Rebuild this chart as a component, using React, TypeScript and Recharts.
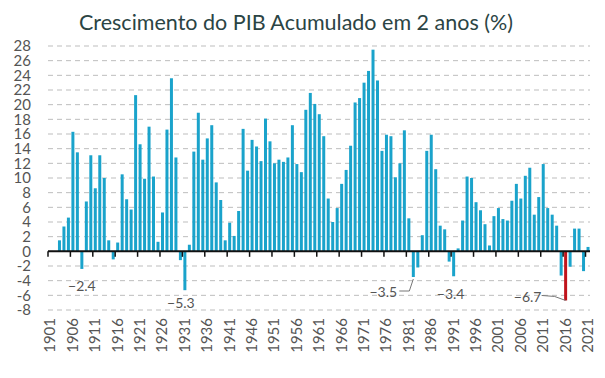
import React from 'react';
import { BarChart, Bar, XAxis, YAxis, CartesianGrid, ReferenceLine, Cell, LabelList } from 'recharts';

const START_YEAR = 1901;
const growth: (number | null)[] = [
  null, null, 1.5, 3.4, 4.6, 16.3, 13.5, -2.4, 6.8, 13.1,
  8.6, 13.1, 10.0, 1.5, -1.1, 1.2, 10.5, 7.1, 5.7, 21.3,
  14.6, 9.9, 17.0, 10.2, 1.3, 5.3, 16.6, 23.6, 12.8, -1.2,
  -5.3, 0.9, 13.6, 18.9, 12.5, 15.4, 17.2, 9.4, 7.0, 1.5,
  3.9, 2.1, 5.5, 16.7, 11.0, 15.2, 14.3, 12.3, 18.1, 15.0,
  12.0, 12.5, 12.2, 12.8, 17.2, 11.9, 10.8, 19.3, 21.6, 20.1,
  18.7, 15.7, 7.2, 4.0, 5.9, 9.2, 11.1, 14.4, 20.3, 20.9,
  23.0, 24.6, 27.5, 23.3, 13.7, 15.9, 15.7, 10.1, 12.0, 16.5,
  4.5, -3.5, -2.2, 2.2, 13.7, 15.9, 11.2, 3.5, 3.0, -1.4,
  -3.4, 0.4, 4.2, 10.2, 10.0, 6.7, 5.6, 3.7, 0.8, 4.8,
  5.9, 4.4, 4.2, 6.9, 9.2, 7.2, 10.3, 11.4, 5.0, 7.4,
  11.9, 5.9, 5.0, 3.5, -3.3, -6.7, -2.1, 3.1, 3.1, -2.7,
  0.6,
];
const years: string[] = growth.map((_, i) => String(START_YEAR + i));
const yTicks = [28, 26, 24, 22, 20, 18, 16, 14, 12, 10, 8, 6, 4, 2, 0, -2, -4, -6, -8];
const tickYears: string[] = years.filter((_, i) => i % 5 === 0);
const highlightYear = '2016';
const annotatedYears = ['1908', '1931', '1982', '1991', '2016'];

const data = years.map((year, i) => ({
  year,
  value: growth[i],
  note: annotatedYears.includes(year) ? year : null,
}));

// label placement (styling only)
const labelStyle: Record<string, { dx: number; dy: number; leader?: 'hook' | 'slant' }> = {
  '1908': { dx: 0, dy: 17 },
  '1931': { dx: -4, dy: 12 },
  '1982': { dx: -30, dy: 14, leader: 'hook' },
  '1991': { dx: -3, dy: 17 },
  '2016': { dx: -38, dy: -4, leader: 'slant' },
};

const fmt = (v: number) => (v < 0 ? '\u2212' + Math.abs(v).toFixed(1) : v.toFixed(1));

const AnnotationLabel = (props: any) => {
  const { x, y, width, height, value } = props;
  if (value == null || !labelStyle[String(value)]) return null;
  const year = String(value);
  const v = growth[years.indexOf(year)];
  if (v == null) return null;
  const st = labelStyle[year];
  const cx = Number(x) + Number(width) / 2;
  const bottom = Math.max(Number(y), Number(y) + Number(height));
  const tx = cx + st.dx;
  const ty = bottom + st.dy;
  let leader: React.ReactNode = null;
  if (st.leader === 'hook') {
    leader = (
      <polyline
        points={`${tx + 16},${ty} ${tx + 26},${ty} ${cx},${bottom + 2}`}
        fill="none"
        stroke="#777"
        strokeWidth={1}
      />
    );
  } else if (st.leader === 'slant') {
    leader = (
      <polyline
        points={`${tx + 14},${ty - 1} ${tx + 27},${ty} ${cx},${bottom}`}
        fill="none"
        stroke="#777"
        strokeWidth={1}
      />
    );
  }
  return (
    <g>
      {leader}
      <text x={tx} y={ty} textAnchor="middle" dominantBaseline="central" fontSize={14} fill="#555" fontFamily="Lato">
        {fmt(v)}
      </text>
    </g>
  );
};

const XTick = (props: any) => {
  const { x, y, payload } = props;
  return (
    <g transform={`translate(${x},${y})`}>
      <text transform="rotate(-90)" textAnchor="end" dy="0.35em" fontSize={15} fill="#555" fontFamily="Lato">
        {payload.value}
      </text>
    </g>
  );
};

export default function App() {
  return (
    <div style={{ position: 'absolute', left: 0, top: 0, width: 605, height: 378, background: '#fff' }}>
      <div
        style={{
          position: 'absolute',
          left: 0,
          top: 8,
          width: 592,
          textAlign: 'center',
          fontFamily: 'Lato',
          fontSize: 21.5,
          color: '#2b4444',
          lineHeight: '28px',
        }}
      >
        Crescimento do PIB Acumulado em 2 anos (%)
      </div>
      <BarChart
        width={605}
        height={378}
        data={data}
        margin={{ top: 46, right: 15, bottom: 0, left: 0 }}
        barSize={3}
      >
        <CartesianGrid vertical={false} stroke="#bdbdbd" strokeDasharray="5 4" />
        <XAxis
          dataKey="year"
          interval={4}
          axisLine={false}
          tickLine={false}
          height={68}
          tickSize={0}
          tickMargin={8}
          tick={<XTick />}
        />
        <YAxis
          domain={[-8, 28]}
          ticks={yTicks}
          interval={0}
          width={48}
          axisLine={false}
          tickLine={false}
          tickSize={0}
          tickMargin={17}
          tick={{ fontSize: 15, fill: '#555', fontFamily: 'Lato' }}
        />
        <Bar dataKey="value" fill="#1aa3cb" isAnimationActive={false}>
          {data.map((d) => (
            <Cell key={d.year} fill={d.year === highlightYear ? '#c0141c' : '#1aa3cb'} />
          ))}
          <LabelList dataKey="note" content={<AnnotationLabel />} />
        </Bar>
        <ReferenceLine y={0} stroke="#111" strokeWidth={2} />
        {tickYears.map((yr) => (
          <ReferenceLine
            key={yr}
            position="start"
            segment={[
              { x: yr, y: 0 },
              { x: yr, y: -0.75 },
            ]}
            stroke="#111"
            strokeWidth={1.5}
          />
        ))}
      </BarChart>
    </div>
  );
}
